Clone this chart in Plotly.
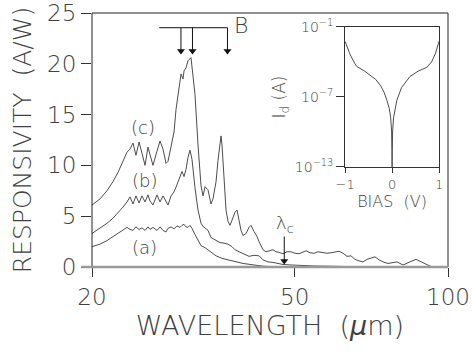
import math
import plotly.graph_objects as go

# ---------------- main panel data: responsivity (A/W) vs wavelength (um) ----------------
wl_c = [20.00, 20.74, 21.40, 21.99, 22.49, 23.01, 23.43, 23.75, 24.07, 24.40, 24.74, 25.07,
        25.42, 25.76, 26.00, 26.35, 26.83, 27.20, 27.57, 27.95, 28.20, 28.59, 28.98, 29.24,
        29.51, 29.77, 29.91, 30.18, 30.32, 30.59, 30.87, 31.29, 31.43, 31.86, 32.30, 32.44,
        32.74, 33.04, 33.34, 33.79, 34.25, 34.56, 35.04, 35.35, 35.68, 35.84, 36.00, 36.33,
        36.66, 36.99, 37.33, 37.66, 38.18, 38.53, 38.88, 39.23, 39.58, 40.13, 40.67, 41.04,
        41.60, 42.17, 42.55, 43.33, 43.92, 44.72, 45.33, 45.95, 46.58, 47.43, 48.30, 49.18,
        50.08, 50.99, 51.92, 52.63, 53.59, 54.57, 55.56, 56.83, 57.87, 58.93, 60.00, 61.10,
        62.21, 63.35, 64.50, 65.68, 66.88, 68.10, 69.34, 70.61, 71.89, 73.21, 74.54, 76.25,
        77.64, 79.41, 81.60, 83.09, 84.61, 86.54, 88.52, 90.54, 93.03, 100.0]
resp_c = [6.1, 6.7, 7.5, 8.4, 9.3, 10.4, 11.3, 11.6, 12.2, 11.0, 12.3, 11.2,
          10.0, 11.8, 11.0, 10.0, 11.4, 12.4, 11.6, 10.2, 10.4, 12.0, 13.3, 15.5,
          17.0, 18.5, 19.0, 18.5, 19.3, 19.6, 20.3, 20.6, 19.5, 17.0, 12.0, 10.5,
          8.0, 7.0, 7.9, 7.6, 6.2, 6.7, 8.4, 10.5, 12.6, 12.9, 12.0, 9.0,
          5.6, 4.5, 4.1, 4.6, 5.4, 5.6, 4.6, 3.6, 3.1, 3.3, 3.9, 4.1,
          3.5, 3.0, 2.5, 1.7, 1.5, 1.6, 1.7, 1.5, 1.45, 1.3, 1.5, 1.5,
          1.35, 1.3, 1.5, 1.6, 1.4, 1.35, 1.5, 1.4, 1.35, 1.4, 1.45, 1.55,
          1.35, 1.05, 1.1, 0.75, 0.6, 0.5, 0.75, 0.9, 1.0, 0.7, 0.5, 0.35,
          0.45, 0.5, 0.2, 0.4, 0.55, 0.75, 0.5, 0.3, 0.0, 0.0]

wl_b = [20.00, 20.74, 21.40, 21.99, 22.49, 23.01, 23.43, 23.75, 24.07, 24.40, 24.74, 25.07,
        25.42, 25.76, 26.00, 26.35, 26.83, 27.20, 27.57, 27.95, 28.20, 28.59, 28.98, 29.37,
        29.77, 30.04, 30.32, 30.59, 30.87, 31.15, 31.43, 31.72, 31.86, 32.30, 32.74, 33.04,
        33.34, 33.79, 34.25, 34.56, 35.04, 35.68, 36.33, 36.99, 37.66, 38.18, 38.88, 39.58,
        40.67, 41.60, 42.55, 43.33, 44.32, 45.33, 46.58, 47.43, 49.18, 50.99, 54.57, 58.93,
        63.35, 68.10, 100.0]
resp_b = [3.3, 3.8, 4.3, 4.8, 5.3, 5.9, 6.4, 6.9, 6.2, 7.0, 6.3, 7.0,
          6.4, 7.1, 6.5, 6.1, 7.1, 6.4, 7.0, 6.4, 6.1, 7.0, 7.4, 8.1,
          8.8, 9.4, 8.9, 9.6, 10.8, 11.5, 10.6, 8.6, 7.8, 5.6, 4.3, 4.0,
          3.8, 3.6, 2.9, 2.8, 2.6, 2.4, 2.35, 2.25, 2.0, 1.7, 1.5, 1.35,
          1.05, 1.15, 1.1, 0.7, 0.5, 0.45, 0.35, 0.25, 0.2, 0.15, 0.1, 0.08,
          0.05, 0.0, 0.0]

wl_a = [20.00, 20.74, 21.40, 21.99, 22.49, 23.01, 23.43, 23.75, 24.07, 24.40, 24.74, 25.07,
        25.42, 25.76, 26.00, 26.35, 26.83, 27.20, 27.57, 27.95, 28.20, 28.59, 28.98, 29.37,
        29.77, 30.04, 30.32, 30.59, 30.87, 31.15, 31.43, 31.86, 32.30, 32.74, 33.34, 33.79,
        34.25, 35.04, 36.00, 36.99, 38.18, 39.58, 41.60, 43.33, 45.33, 49.18, 100.0]
resp_a = [2.0, 2.25, 2.6, 3.0, 3.3, 3.6, 3.9, 3.7, 3.6, 3.95, 3.7, 3.85,
          3.6, 3.95, 3.7, 3.9, 3.6, 3.95, 3.6, 3.45, 3.8, 3.95, 3.75, 4.05,
          3.9, 4.1, 4.2, 3.95, 3.9, 4.1, 3.8, 3.2, 2.6, 2.1, 1.9, 1.7,
          1.5, 1.1, 0.85, 0.7, 0.5, 0.35, 0.2, 0.08, 0.03, 0.0, 0.0]

curve_labels = ["(c)", "(b)", "(a)"]
curve_label_wl = [25.2, 25.3, 25.4]
curve_label_resp = [13.7, 8.5, 1.9]

# "B" markers
b_marker_wl = [29.9, 31.5, 36.9]
b_bar_wl = [27.1, 36.9]
b_level = 23.55
b_tip = 20.8
b_label = "B"
b_label_pos = (39.3, 23.8)

# cutoff wavelength marker
lc_wl = 47.7
lc_from = 3.0
lc_to = 0.15
lc_label_pos = (47.9, 4.25)

x_ticks = [20, 50, 100]
y_ticks = [0, 5, 10, 15, 20, 25]

# ---------------- inset data: dark current vs bias ----------------
bias = [-1.0, -0.9, -0.8, -0.75, -0.6, -0.47, -0.35, -0.25, -0.17, -0.11, -0.06, -0.03,
        -0.01, 0.0, 0.01, 0.03, 0.06, 0.1, 0.2, 0.38, 0.55, 0.74, 0.84, 0.92, 1.0]
dark_current = [5.6e-3, 5e-4, 8e-5, 4e-5, 1.8e-5, 8e-6, 3.2e-6, 1e-6, 2.5e-7, 5e-8, 1e-8, 1.6e-9,
                1e-10, 1e-13, 1e-10, 1.6e-9, 1e-8, 5e-8, 6.3e-7, 5.6e-6, 1.6e-5, 3.5e-5, 1e-4, 5e-4,
                6e-3]
inset_x_ticks = [-1, 0, 1]
inset_x_text = ["\u22121", "0", "1"]
inset_y_ticks = [1e-13, 1e-7, 1e-1]
inset_y_text = ["10<sup>\u221213</sup>", "10<sup>\u22127</sup>", "10<sup>\u22121</sup>"]

# ---------------- figure ----------------
FONT = "DejaVu Sans"
TXT = "#404040"
CURVE = "#4d4d4d"
ARROW = "#111111"
W = 200  # light weight

fig = go.Figure()
for wl, r in ((wl_c, resp_c), (wl_b, resp_b), (wl_a, resp_a)):
    fig.add_trace(go.Scatter(x=wl, y=r, mode="lines", line=dict(color=CURVE, width=1),
                             showlegend=False, hoverinfo="skip"))

# B bracket: horizontal bar + three down arrows
fig.add_trace(go.Scatter(x=b_bar_wl, y=[b_level, b_level], mode="lines",
                         line=dict(color=ARROW, width=1), showlegend=False, hoverinfo="skip"))
head_off = 0.45  # arrowhead drawn just above the tip
for xw in b_marker_wl:
    fig.add_trace(go.Scatter(x=[xw, xw], y=[b_level, b_tip + head_off], mode="lines",
                             line=dict(color=ARROW, width=1), showlegend=False, hoverinfo="skip"))
fig.add_trace(go.Scatter(x=b_marker_wl, y=[b_tip + head_off] * len(b_marker_wl), mode="markers",
                         marker=dict(symbol="triangle-down", size=7, color=ARROW,
                                     line=dict(width=0)),
                         showlegend=False, hoverinfo="skip"))
# lambda_c arrow
fig.add_trace(go.Scatter(x=[lc_wl, lc_wl], y=[lc_from, lc_to + head_off], mode="lines",
                         line=dict(color=ARROW, width=1), showlegend=False, hoverinfo="skip"))
fig.add_trace(go.Scatter(x=[lc_wl], y=[lc_to + head_off], mode="markers",
                         marker=dict(symbol="triangle-down", size=7, color=ARROW, line=dict(width=0)),
                         showlegend=False, hoverinfo="skip"))

fig.add_trace(go.Scatter(x=bias, y=dark_current, mode="lines", xaxis="x2", yaxis="y2",
                         line=dict(color=CURVE, width=1), showlegend=False, hoverinfo="skip"))

ann = []
for t, xw, yr in zip(curve_labels, curve_label_wl, curve_label_resp):
    ann.append(dict(x=math.log10(xw), y=yr, xref="x", yref="y", text=t, showarrow=False,
                    font=dict(family=FONT, size=18, color=TXT, weight=W)))
ann.append(dict(x=math.log10(b_label_pos[0]), y=b_label_pos[1], xref="x", yref="y", text=b_label,
                showarrow=False, font=dict(family=FONT, size=22, color=TXT, weight=W)))
ann.append(dict(x=math.log10(lc_label_pos[0]), y=lc_label_pos[1], xref="x", yref="y",
                text="\u03bb<sub>c</sub>", showarrow=False,
                font=dict(family=FONT, size=18, color=TXT, weight=W)))

shapes = [
    dict(type="rect", xref="paper", yref="paper", x0=0, x1=1, y0=0, y1=1,
         line=dict(color="#222", width=1), layer="above"),
    dict(type="line", xref="paper", yref="paper", x0=-0.03, x1=1, y0=0, y1=0,
         line=dict(color="#9a9a9a", width=2.5), layer="above"),
]

fig.update_layout(
    width=472, height=352,
    margin=dict(l=92, r=24, t=13, b=85),
    paper_bgcolor="white", plot_bgcolor="white",
    font=dict(family=FONT, color=TXT, weight=W),
    annotations=ann, shapes=shapes, showlegend=False,
    xaxis=dict(type="log", range=[math.log10(20), math.log10(100)], tickvals=x_ticks,
               ticktext=[str(v) for v in x_ticks], ticks="outside", ticklen=9, tickcolor="#333",
               showgrid=False, zeroline=False, showline=False, automargin=False,
               tickfont=dict(size=23, color=TXT, weight=W),
               title=dict(text="WAVELENGTH\u00a0\u00a0(<i>\u03bc</i>m)",
                          font=dict(size=27, color=TXT, weight=W), standoff=6)),
    yaxis=dict(range=[0, 25], tickvals=y_ticks, ticks="outside", ticklen=10, tickcolor="#333",
               showgrid=False, zeroline=False, showline=False, automargin=False,
               tickfont=dict(size=23, color=TXT, weight=W),
               title=dict(text="RESPONSIVITY\u00a0\u00a0(A/W)",
                          font=dict(size=25, color=TXT, weight=W), standoff=8)),
    xaxis2=dict(domain=[0.711, 0.975], anchor="y2", range=[-1, 1], tickvals=inset_x_ticks,
                ticktext=inset_x_text, ticks="outside", ticklen=5, tickcolor="#333",
                showline=True, mirror=True, linecolor="#333", linewidth=1, automargin=False,
                showgrid=False, zeroline=False, tickfont=dict(size=13, color=TXT, weight=W),
                title=dict(text="BIAS\u00a0\u00a0(V)", font=dict(size=16, color=TXT, weight=W),
                           standoff=2)),
    yaxis2=dict(domain=[0.394, 0.945], anchor="x2", type="log", range=[-13, -1],
                tickvals=inset_y_ticks, ticktext=inset_y_text, ticks="outside", ticklen=8,
                tickcolor="#333", showline=True, mirror=True, linecolor="#333", linewidth=1,
                automargin=False,
                showgrid=False, zeroline=False, tickfont=dict(size=14, color=TXT, weight=W),
                title=dict(text="I<sub>d</sub>\u00a0(A)", font=dict(size=17, color=TXT, weight=W),
                           standoff=4)),
)

fig.write_html("out.html", config={"displayModeBar": False},
               post_script="document.body.style.margin='0';")
